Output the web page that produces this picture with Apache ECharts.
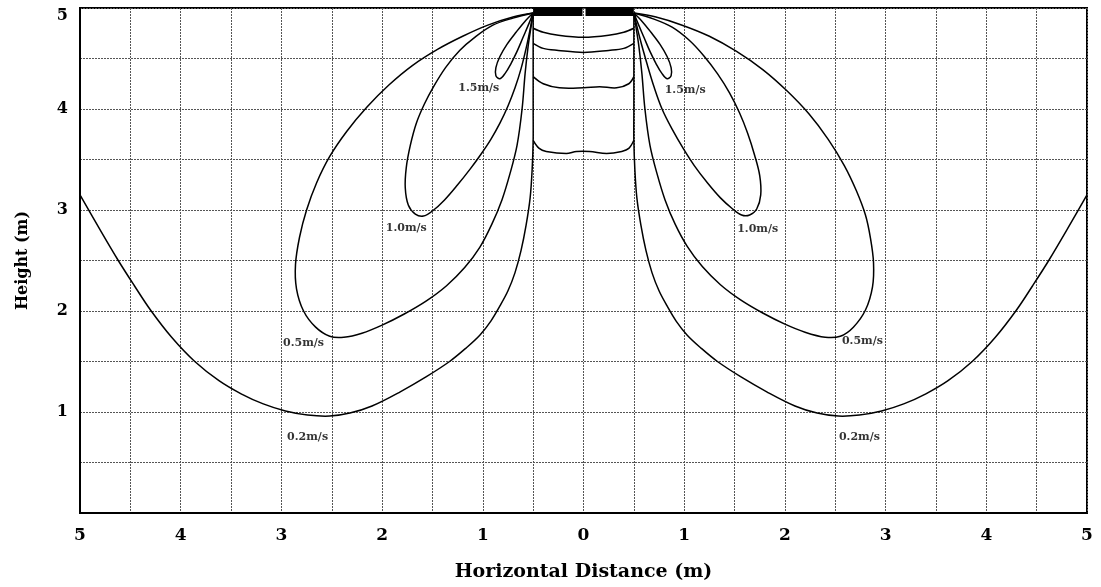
<!DOCTYPE html>
<html>
<head>
<meta charset="utf-8">
<script src="https://cdn.jsdelivr.net/npm/echarts@6/dist/echarts.min.js"></script>
<style>
  html, body { margin: 0; padding: 0; background: #fff; }
  #chart { width: 1101px; height: 587px; }
</style>
</head>
<body>
<div id="chart"></div>
<script>
// Air-velocity isolines below a ceiling diffuser (x: horizontal distance, y: height, metres)

// 0.2 m/s isoline: left branch (runs up the diffuser edge), crossing under the diffuser, right branch
const iso02Left = [
  [-5.00, 3.15], [-4.81, 2.82], [-4.62, 2.50], [-4.46, 2.25], [-4.30, 2.01], [-4.09, 1.74],
  [-3.86, 1.50], [-3.62, 1.31], [-3.40, 1.18], [-3.18, 1.08], [-2.96, 1.01], [-2.74, 0.97],
  [-2.52, 0.96], [-2.32, 0.99], [-2.10, 1.06], [-1.82, 1.20], [-1.56, 1.35], [-1.33, 1.50],
  [-1.17, 1.63], [-1.03, 1.76], [-0.92, 1.90], [-0.83, 2.05], [-0.75, 2.20], [-0.68, 2.38],
  [-0.62, 2.60], [-0.57, 2.85], [-0.53, 3.12], [-0.51, 3.40], [-0.50, 3.69], [-0.50, 4.00],
  [-0.50, 4.30], [-0.50, 4.62], [-0.50, 4.95]
];
const iso02Under = [
  [-0.50, 3.69], [-0.44, 3.61], [-0.37, 3.58], [-0.17, 3.56], [-0.07, 3.58], [0.06, 3.58],
  [0.23, 3.56], [0.38, 3.58], [0.45, 3.61], [0.50, 3.69]
];
const iso02Right = [
  [0.50, 4.95], [0.50, 4.62], [0.50, 4.30], [0.50, 4.00], [0.50, 3.69], [0.51, 3.40],
  [0.53, 3.12], [0.57, 2.85], [0.62, 2.60], [0.68, 2.38], [0.75, 2.20], [0.83, 2.05],
  [0.92, 1.90], [1.03, 1.76], [1.17, 1.63], [1.33, 1.50], [1.56, 1.35], [1.82, 1.20],
  [2.10, 1.06], [2.32, 0.99], [2.53, 0.96], [2.74, 0.97], [2.96, 1.01], [3.18, 1.08],
  [3.40, 1.18], [3.62, 1.31], [3.86, 1.50], [4.09, 1.74], [4.30, 2.01], [4.46, 2.25],
  [4.62, 2.50], [4.81, 2.82], [5.00, 3.15]
];

// 0.5 m/s lobes
const iso05Left = [
  [-0.50, 4.95], [-0.70, 4.91], [-0.95, 4.83], [-1.20, 4.72], [-1.45, 4.59], [-1.70, 4.43],
  [-1.93, 4.24], [-2.15, 4.02], [-2.35, 3.78], [-2.52, 3.53], [-2.65, 3.27], [-2.75, 3.00],
  [-2.82, 2.73], [-2.86, 2.46], [-2.85, 2.22], [-2.78, 2.00], [-2.66, 1.84], [-2.52, 1.75],
  [-2.38, 1.74], [-2.20, 1.78], [-2.00, 1.86], [-1.78, 1.97], [-1.56, 2.10], [-1.36, 2.25],
  [-1.18, 2.43], [-1.03, 2.63], [-0.91, 2.86], [-0.81, 3.10], [-0.73, 3.36], [-0.66, 3.64],
  [-0.61, 4.00], [-0.58, 4.35], [-0.55, 4.62], [-0.52, 4.82], [-0.50, 4.95]
];
const iso05Right = [
  [0.50, 4.95], [0.72, 4.91], [0.98, 4.83], [1.25, 4.72], [1.52, 4.57], [1.78, 4.39],
  [2.02, 4.18], [2.24, 3.95], [2.43, 3.70], [2.59, 3.44], [2.71, 3.19], [2.80, 2.95],
  [2.85, 2.72], [2.88, 2.48], [2.87, 2.24], [2.80, 2.01], [2.68, 1.84], [2.55, 1.75],
  [2.40, 1.74], [2.20, 1.79], [2.00, 1.87], [1.78, 1.98], [1.56, 2.11], [1.36, 2.26],
  [1.18, 2.44], [1.03, 2.64], [0.91, 2.86], [0.81, 3.10], [0.73, 3.36], [0.66, 3.64],
  [0.61, 4.00], [0.58, 4.35], [0.55, 4.62], [0.52, 4.82], [0.50, 4.95]
];

// 1.0 m/s lobes
const iso10Left = [
  [-0.50, 4.95], [-0.70, 4.90], [-0.90, 4.83], [-1.08, 4.71], [-1.23, 4.58], [-1.37, 4.41],
  [-1.49, 4.22], [-1.58, 4.05], [-1.66, 3.86], [-1.72, 3.64], [-1.76, 3.42], [-1.77, 3.22],
  [-1.74, 3.05], [-1.67, 2.96], [-1.59, 2.94], [-1.50, 2.99], [-1.38, 3.10], [-1.25, 3.25],
  [-1.13, 3.40], [-1.02, 3.55], [-0.92, 3.70], [-0.83, 3.86], [-0.75, 4.03], [-0.68, 4.21],
  [-0.62, 4.40], [-0.57, 4.60], [-0.53, 4.79], [-0.50, 4.95]
];
const iso10Right = [
  [0.50, 4.95], [0.70, 4.89], [0.88, 4.81], [1.05, 4.68], [1.20, 4.52], [1.33, 4.35],
  [1.45, 4.16], [1.55, 3.96], [1.63, 3.76], [1.70, 3.54], [1.75, 3.34], [1.76, 3.15],
  [1.72, 3.01], [1.65, 2.95], [1.57, 2.95], [1.47, 3.02], [1.36, 3.12], [1.23, 3.27],
  [1.10, 3.44], [0.99, 3.61], [0.88, 3.80], [0.78, 4.00], [0.70, 4.22], [0.63, 4.45],
  [0.56, 4.70], [0.50, 4.95]
];

// 1.5 m/s lobes
const iso15Left = [
  [-0.50, 4.95], [-0.58, 4.87], [-0.67, 4.76], [-0.76, 4.64], [-0.83, 4.52], [-0.87, 4.41],
  [-0.87, 4.33], [-0.83, 4.30], [-0.78, 4.35], [-0.72, 4.45], [-0.66, 4.57], [-0.60, 4.71],
  [-0.54, 4.85], [-0.50, 4.95]
];
const iso15Right = [
  [0.50, 4.95], [0.58, 4.87], [0.67, 4.76], [0.76, 4.64], [0.83, 4.52], [0.87, 4.41],
  [0.87, 4.33], [0.83, 4.30], [0.78, 4.35], [0.72, 4.45], [0.66, 4.57], [0.60, 4.71],
  [0.54, 4.85], [0.50, 4.95]
];

// Isolines inside the jet core, directly under the diffuser
const core1 = [[-0.50, 4.80], [-0.40, 4.76], [-0.25, 4.73], [0.00, 4.71], [0.25, 4.73], [0.40, 4.76], [0.50, 4.80]];
const core2 = [[-0.50, 4.65], [-0.40, 4.60], [-0.25, 4.58], [0.00, 4.56], [0.25, 4.58], [0.40, 4.60], [0.50, 4.65]];
const core3 = [[-0.50, 4.32], [-0.40, 4.25], [-0.24, 4.21], [0.00, 4.21], [0.16, 4.22], [0.33, 4.21], [0.45, 4.25], [0.50, 4.32]];

// Diffuser (two halves): [x0, x1, y0, y1]
const diffuser = [[-0.50, -0.01, 4.92, 5.00], [0.02, 0.50, 4.92, 5.00]];

// Isoline captions: [x, y, text]
const captions = [
  [-1.04, 4.21, '1.5m/s'], [1.01, 4.19, '1.5m/s'],
  [-1.76, 2.82, '1.0m/s'], [1.73, 2.81, '1.0m/s'],
  [-2.78, 1.68, '0.5m/s'], [2.77, 1.70, '0.5m/s'],
  [-2.74, 0.75, '0.2m/s'], [2.74, 0.75, '0.2m/s']
];

const lines = [iso02Left, iso02Under, iso02Right, iso05Left, iso05Right, iso10Left, iso10Right,
  iso15Left, iso15Right, core1, core2, core3];

const FONT = 'DejaVu Serif';
const gridLine = { color: '#555', width: 1, type: [2, 1] };

const chart = echarts.init(document.getElementById('chart'), null, { renderer: 'canvas' });
chart.setOption({
  animation: false,
  backgroundColor: '#fff',
  grid: {
    left: 80, right: 14, top: 8, bottom: 74,
    show: true, borderColor: '#000', borderWidth: 2, backgroundColor: 'transparent'
  },
  xAxis: {
    type: 'value', min: -5, max: 5, interval: 1,
    name: 'Horizontal Distance (m)', nameLocation: 'middle', nameGap: 50,
    nameTextStyle: { fontFamily: FONT, fontWeight: 'bold', fontSize: 19, color: '#000' },
    axisLine: { show: true, onZero: false, lineStyle: { color: '#000', width: 2 } },
    axisTick: { show: false },
    axisLabel: {
      margin: 14, fontFamily: FONT, fontWeight: 'bold', fontSize: 17, color: '#000',
      formatter: function (v) { return String(Math.abs(v)); }
    },
    splitLine: { show: true, lineStyle: gridLine },
    minorTick: { show: false, splitNumber: 2 },
    minorSplitLine: { show: true, lineStyle: gridLine }
  },
  yAxis: {
    type: 'value', min: 0, max: 5, interval: 1,
    name: 'Height (m)', nameLocation: 'middle', nameGap: 49,
    nameTextStyle: { fontFamily: FONT, fontWeight: 'bold', fontSize: 16, color: '#000' },
    axisLine: { show: true, onZero: false, lineStyle: { color: '#000', width: 2 } },
    axisTick: { show: false },
    axisLabel: {
      margin: 12, fontFamily: FONT, fontWeight: 'bold', fontSize: 16, color: '#000',
      verticalAlignMaxLabel: 'top',
      formatter: function (v) { return v === 0 ? '' : String(v); }
    },
    splitLine: { show: true, lineStyle: gridLine },
    minorTick: { show: false, splitNumber: 2 },
    minorSplitLine: { show: true, lineStyle: gridLine }
  },
  series: [
    {
      // every isoline is one item; its points go through the axes' scales via api.coord
      type: 'custom',
      data: lines.map(function (pts, i) { return [i, pts[0][0], pts[0][1]]; }),
      encode: { x: 1, y: 2 },
      silent: true,
      z: 3,
      renderItem: function (params, api) {
        const pts = lines[api.value(0)].map(function (p) { return api.coord(p); });
        return {
          type: 'polyline',
          shape: { points: pts, smooth: 0.35 },
          style: { stroke: '#000', lineWidth: 1.5, fill: null }
        };
      }
    },
    {
      type: 'custom',
      data: diffuser,
      encode: { x: [0, 1], y: [2, 3] },
      silent: true,
      z: 5,
      renderItem: function (params, api) {
        const a = api.coord([api.value(0), api.value(3)]);
        const b = api.coord([api.value(1), api.value(2)]);
        return {
          type: 'rect',
          shape: { x: a[0], y: a[1], width: b[0] - a[0], height: b[1] - a[1] },
          style: { fill: '#000' }
        };
      }
    },
    {
      type: 'scatter',
      data: captions.map(function (c) { return { value: [c[0], c[1]], name: c[2] }; }),
      symbolSize: 0,
      silent: true,
      z: 6,
      label: {
        show: true, position: 'inside',
        formatter: function (p) { return p.name; },
        fontFamily: FONT, fontWeight: 'bold', fontSize: 11, color: '#000'
      }
    }
  ]
});
</script>
</body>
</html>
